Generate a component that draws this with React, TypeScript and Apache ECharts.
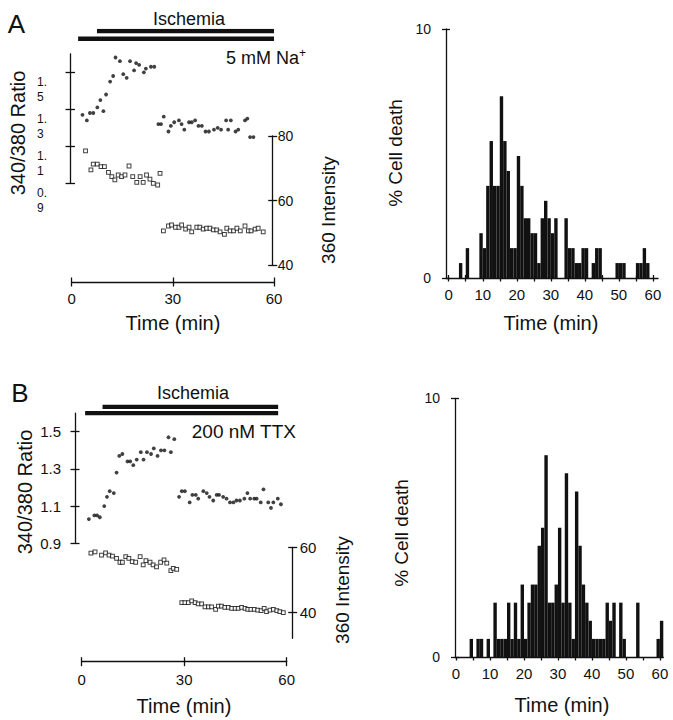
import React, { useEffect, useRef } from 'react';
import * as echarts from 'echarts';

const FONT = '"Liberation Sans", Arial, Helvetica, sans-serif';
const INK = '#111';

// ---- tick values ----
const ratioTicks = [0.9, 1.1, 1.3, 1.5];
const intensityTicksA = [40, 60, 80];
const intensityTicksB = [40, 60];
const timeTicks = [0, 30, 60];
const histLabelTicks = [0, 10, 20, 30, 40, 50, 60];
const histMinorTicks = [0, 5, 10, 15, 20, 25, 30, 35, 40, 45, 50, 55, 60];
const histYTicks = [0, 10];

// ---- treatment bars (min) ----
const ischemiaA = [7.5, 60];
const sodiumA = [1.9, 60];
const ischemiaB = [6.1, 57.5];
const ttxB = [1.0, 57.5];

// ---- panel A: 340/380 ratio (time min, ratio) ----
const ratioA: number[][] = [
  [3.2, 1.27], [4.5, 1.24], [5.4, 1.28], [6.4, 1.28], [7.6, 1.31], [8.5, 1.35], [9.4, 1.29],
  [10.2, 1.38], [11.4, 1.45], [12.3, 1.48], [13.0, 1.58], [14.3, 1.56], [15.3, 1.49], [16.3, 1.47],
  [17.3, 1.56], [18.5, 1.51], [19.1, 1.55], [20.0, 1.54], [21.4, 1.5], [22.0, 1.52], [23.5, 1.53],
  [24.5, 1.53],
  [25.7, 1.22], [26.5, 1.22], [27.3, 1.26], [28.7, 1.18], [29.4, 1.21], [30.4, 1.23], [31.8, 1.24],
  [32.6, 1.22], [33.4, 1.19], [34.8, 1.23], [35.6, 1.23], [36.6, 1.24], [37.6, 1.21], [38.6, 1.21],
  [39.7, 1.18], [40.7, 1.18], [42.2, 1.19], [43.3, 1.2], [44.3, 1.19], [45.8, 1.24], [46.4, 1.19],
  [47.2, 1.24], [48.6, 1.18], [49.4, 1.19], [51.4, 1.24], [52.1, 1.25], [52.9, 1.15], [53.9, 1.15],
];

// ---- panel A: 360 intensity ----
const intensityA: number[][] = [
  [4.1, 75.4], [5.7, 69.5], [6.4, 71.3], [7.6, 71.3], [8.7, 70.5], [9.7, 70.5], [10.9, 68.7],
  [11.9, 67.4], [12.8, 66.4], [13.8, 67.9], [14.8, 67.4], [15.8, 67.9], [17.0, 70.7], [18.1, 67.4],
  [19.3, 65.6], [20.3, 67.4], [21.2, 65.6], [22.2, 67.9], [23.2, 66.6], [24.2, 65.3], [25.5, 64.8],
  [26.2, 68.4],
  [27.2, 50.6], [28.7, 52.1], [29.6, 52.4], [30.8, 51.7], [31.8, 51.7], [32.6, 52.4], [33.8, 51.1],
  [34.8, 51.7], [35.6, 50.3], [37.1, 51.7], [38.0, 51.7], [39.0, 51.1], [40.0, 51.4], [41.0, 51.4],
  [42.0, 50.9], [43.0, 50.9], [44.0, 50.3], [45.3, 49.5], [46.0, 51.4], [47.0, 50.6], [48.0, 50.6],
  [49.0, 51.4], [50.0, 50.6], [51.4, 52.1], [52.4, 50.6], [53.2, 50.6], [54.4, 51.1], [55.3, 51.4],
  [56.8, 50.3],
];

// ---- panel B: 340/380 ratio ----
const ratioB: number[][] = [
  [2.1, 1.03], [3.7, 1.05], [4.5, 1.05], [5.3, 1.04], [6.6, 1.1], [7.4, 1.15], [8.2, 1.18],
  [9.4, 1.17], [10.2, 1.28], [11.0, 1.37], [11.9, 1.38], [13.4, 1.34], [14.2, 1.34], [15.1, 1.32],
  [16.1, 1.35], [17.3, 1.39], [18.1, 1.35], [19.1, 1.39], [20.3, 1.38], [21.1, 1.41], [22.2, 1.37],
  [23.2, 1.4], [24.2, 1.4], [25.4, 1.47], [26.1, 1.39], [27.1, 1.46],
  [28.5, 1.15], [29.3, 1.18], [30.2, 1.18], [31.6, 1.12], [32.4, 1.16], [33.4, 1.16], [34.1, 1.14],
  [35.6, 1.18], [36.6, 1.17], [37.4, 1.15], [38.5, 1.13], [39.5, 1.16], [40.2, 1.16], [41.4, 1.15],
  [42.4, 1.14], [43.4, 1.12], [44.4, 1.12], [45.3, 1.13], [46.3, 1.13], [47.6, 1.14], [48.5, 1.17],
  [49.3, 1.14], [50.5, 1.14], [51.2, 1.14], [52.4, 1.12], [53.2, 1.19], [54.6, 1.12], [55.4, 1.09],
  [56.1, 1.12], [57.4, 1.14], [58.3, 1.11],
];

// ---- panel B: 360 intensity ----
const intensityB: number[][] = [
  [2.7, 58.2], [3.9, 58.6], [4.9, 61.0], [5.8, 57.6], [7.0, 58.3], [8.0, 57.6], [9.0, 57.3],
  [10.2, 56.6], [11.2, 55.4], [11.9, 55.4], [12.9, 57.1], [13.8, 56.6], [14.8, 55.6], [15.8, 55.4],
  [17.1, 57.1], [18.0, 54.6], [18.8, 55.9], [20.0, 55.4], [20.9, 54.6], [21.9, 54.0], [23.1, 55.4],
  [24.1, 56.1], [24.9, 55.1], [26.1, 52.8], [26.8, 53.5], [27.8, 53.2],
  [29.3, 43.0], [30.2, 43.0], [31.2, 43.0], [32.2, 43.5], [33.2, 43.0], [34.1, 42.6], [35.1, 42.6],
  [36.1, 41.7], [37.1, 41.7], [38.0, 41.7], [39.2, 40.9], [40.0, 41.9], [40.9, 41.9], [41.9, 41.5],
  [42.9, 41.5], [43.9, 41.2], [44.9, 41.2], [45.8, 41.2], [46.8, 41.5], [47.8, 41.2], [48.6, 40.9],
  [49.5, 40.9], [50.5, 40.9], [51.5, 40.7], [52.5, 40.5], [53.4, 41.2], [54.1, 40.2], [55.1, 40.7],
  [56.1, 40.9], [57.1, 40.5], [58.0, 40.2], [59.0, 39.9],
];

// ---- histograms: % cell death per 1-min bin, index = minute ----
const histA = [
  0, 0, 0, 0.6, 0, 1.2, 0, 0, 0, 1.8,
  1.2, 3.7, 5.5, 3.7, 3.7, 7.3, 5.5, 4.3, 1.2, 1.2,
  4.9, 3.7, 2.4, 2.4, 1.8, 1.8, 0.6, 2.4, 3.1, 2.4,
  1.8, 2.4, 0, 0, 2.4, 1.2, 1.2, 0.6, 0.6, 1.2,
  1.2, 0, 0.6, 1.2, 1.2, 0, 0, 0, 0, 0.6,
  0.6, 0.6, 0, 0, 0, 0.6, 0.6, 1.2, 0.6, 0,
  0,
];
const histB = [
  0, 0, 0, 0, 0.7, 0, 0.7, 0.7, 0, 0.7,
  0, 2.1, 0.7, 0.7, 0.7, 2.1, 0.7, 2.1, 0.7, 2.8,
  0.7, 2.1, 2.8, 2.8, 4.3, 5.0, 7.8, 2.1, 2.1, 2.8,
  5.0, 2.1, 7.1, 2.1, 0.7, 6.4, 4.3, 2.8, 2.1, 1.4,
  0.7, 0.7, 0.7, 0.7, 2.1, 1.4, 2.1, 0, 2.1, 0.7,
  0, 0, 0, 2.1, 0, 0, 0, 0, 0, 0.7,
  1.4,
];

const LINE = { color: INK, width: 1.3 };

function visAxis(o: any) {
  return {
    type: 'value',
    splitLine: { show: false },
    axisLine: { show: true, onZero: false, lineStyle: LINE },
    ...o,
    axisTick: { show: true, lineStyle: LINE, ...(o.axisTick || {}) },
    axisLabel: { color: INK, fontFamily: FONT, ...(o.axisLabel || {}) },
  };
}
function dupAxis(o: any) {
  return {
    type: 'value',
    splitLine: { show: false },
    axisLine: { show: false, onZero: false },
    axisLabel: { show: false },
    ...o,
    axisTick: { show: true, inside: true, lineStyle: LINE, ...(o.axisTick || {}) },
  };
}
function hidAxis(o: any) {
  return { type: 'value', show: false, splitLine: { show: false }, ...o };
}

const histRender = (params: any, api: any) => {
  const x0 = api.value(0);
  const v = api.value(1);
  if (!v) return null;
  const p0 = api.coord([x0, v]);
  const p1 = api.coord([x0 + 1, 0]);
  return {
    type: 'rect',
    shape: { x: p0[0], y: p0[1], width: p1[0] - p0[0], height: p1[1] - p0[1] },
    style: { fill: INK },
  };
};

const ratioFmtA = (v: number) => {
  const s = v.toFixed(1);
  return s.slice(0, 2) + '\n' + s.slice(2);
};

function txt(text: string, x: number, y: number, size: number, extra: any = {}) {
  return {
    type: 'text',
    x,
    y,
    rotation: extra.rot || 0,
    silent: true,
    style: {
      text,
      fontSize: size,
      fontFamily: FONT,
      fill: INK,
      align: extra.align || 'center',
      verticalAlign: 'middle',
      rich: extra.rich,
    },
  };
}

const supRich = { s: { fontSize: 12, fontFamily: FONT, fill: INK, padding: [0, 0, 10, 0] } };

export default function App() {
  const ref = useRef<HTMLDivElement>(null);
  useEffect(() => {
    if (!ref.current) return;
    const chart = echarts.init(ref.current, undefined, { renderer: 'svg' });
    const scatterDot = { type: 'scatter', symbol: 'circle', symbolSize: 3.8, itemStyle: { color: INK }, silent: true };
    const scatterSq = {
      type: 'scatter', symbol: 'rect', symbolSize: 3.8,
      itemStyle: { color: '#fff', borderColor: INK, borderWidth: 1 }, silent: true,
    };
    const barLine = { type: 'line', symbol: 'none', silent: true, lineStyle: { width: 4.6, color: INK, cap: 'butt' } };

    const option: any = {
      animation: false,
      backgroundColor: '#fff',
      grid: [
        { left: 71.7, top: 53.8, width: 202.3, height: 129.5 }, // 0 A ratio
        { left: 71.7, top: 136, width: 202.3, height: 129 }, // 1 A intensity
        { left: 81.7, top: 413.1, width: 205, height: 130.2 }, // 2 B ratio
        { left: 81.7, top: 547.3, width: 205, height: 91 }, // 3 B intensity
        { left: 446, top: 29, width: 212, height: 249 }, // 4 hist A
        { left: 455, top: 398.3, width: 208.3, height: 258.7 }, // 5 hist B
        { left: 71.7, top: 31, width: 202.3, height: 7.7 }, // 6 A bars
        { left: 81.7, top: 406.7, width: 205, height: 6.6 }, // 7 B bars
      ],
      xAxis: [
        hidAxis({ gridIndex: 0, min: 0, max: 60 }), // 0
        visAxis({
          gridIndex: 1, min: 0, max: 60, position: 'bottom', offset: 17,
          axisTick: { customValues: timeTicks, length: 4.5 },
          axisLabel: { customValues: timeTicks, fontSize: 15, margin: 9 },
        }), // 1
        dupAxis({ gridIndex: 1, min: 0, max: 60, position: 'bottom', offset: 17, axisTick: { customValues: timeTicks, length: 4.5 } }), // 2
        hidAxis({ gridIndex: 2, min: 0, max: 60 }), // 3
        visAxis({
          gridIndex: 3, min: 0, max: 60, position: 'bottom', offset: 23.4,
          axisTick: { customValues: timeTicks, length: 4.5 },
          axisLabel: { customValues: timeTicks, fontSize: 15, margin: 10 },
        }), // 4
        dupAxis({ gridIndex: 3, min: 0, max: 60, position: 'bottom', offset: 23.4, axisTick: { customValues: timeTicks, length: 4.5 } }), // 5
        visAxis({
          gridIndex: 4, min: -0.8, max: 61.5, position: 'bottom',
          axisTick: { customValues: histMinorTicks, length: 3.5 },
          axisLabel: { customValues: histLabelTicks, fontSize: 15, margin: 9 },
        }), // 6
        dupAxis({ gridIndex: 4, min: -0.8, max: 61.5, position: 'bottom', axisTick: { customValues: histMinorTicks, length: 3 } }), // 7
        visAxis({
          gridIndex: 5, min: -0.3, max: 61, position: 'bottom',
          axisTick: { customValues: histMinorTicks, length: 3.5 },
          axisLabel: { customValues: histLabelTicks, fontSize: 15, margin: 9 },
        }), // 8
        hidAxis({ gridIndex: 6, min: 0, max: 60 }), // 9
        hidAxis({ gridIndex: 7, min: 0, max: 60 }), // 10
      ],
      yAxis: [
        visAxis({
          gridIndex: 0, min: 0.9, max: 1.6, position: 'left', offset: 1.7,
          axisTick: { customValues: ratioTicks, length: 4.5 },
          axisLabel: {
            customValues: ratioTicks, formatter: ratioFmtA, fontSize: 12, align: 'left', margin: 33,
            verticalAlign: 'top', lineHeight: 15, padding: [2, 0, 0, 0],
          },
        }), // 0
        dupAxis({ gridIndex: 0, min: 0.9, max: 1.6, position: 'left', offset: 1.7, axisTick: { customValues: ratioTicks, length: 5 } }), // 1
        visAxis({
          gridIndex: 1, min: 40, max: 80, position: 'right', offset: -1.3,
          axisTick: { customValues: intensityTicksA, length: 4.5 },
          axisLabel: { customValues: intensityTicksA, fontSize: 14, margin: 5 },
        }), // 2
        dupAxis({ gridIndex: 1, min: 40, max: 80, position: 'right', offset: -1.3, axisTick: { customValues: intensityTicksA, length: 4.5 } }), // 3
        visAxis({
          gridIndex: 2, min: 0.9, max: 1.6, position: 'left', offset: 6.7,
          axisTick: { customValues: ratioTicks, length: 4.5 },
          axisLabel: { customValues: ratioTicks, formatter: (v: number) => v.toFixed(1), fontSize: 15, margin: 14 },
        }), // 4
        dupAxis({ gridIndex: 2, min: 0.9, max: 1.6, position: 'left', offset: 6.7, axisTick: { customValues: ratioTicks, length: 4.5 } }), // 5
        visAxis({
          gridIndex: 3, min: 32, max: 60, position: 'right', offset: 6,
          axisTick: { customValues: intensityTicksB, length: 4.5 },
          axisLabel: { customValues: intensityTicksB, fontSize: 15, margin: 7 },
        }), // 6
        dupAxis({ gridIndex: 3, min: 32, max: 60, position: 'right', offset: 6, axisTick: { customValues: intensityTicksB, length: 4.5 } }), // 7
        visAxis({
          gridIndex: 4, min: 0, max: 10, position: 'left',
          axisTick: { customValues: histYTicks, length: 4 },
          axisLabel: { customValues: histYTicks, fontSize: 14, margin: 15 },
        }), // 8
        visAxis({
          gridIndex: 5, min: 0, max: 10, position: 'left',
          axisTick: { customValues: histYTicks, length: 4 },
          axisLabel: { customValues: histYTicks, fontSize: 14, margin: 15 },
        }), // 9
        hidAxis({ gridIndex: 6, min: 0, max: 1 }), // 10
        hidAxis({ gridIndex: 7, min: 0, max: 1 }), // 11
        dupAxis({ gridIndex: 4, min: 0, max: 10, position: 'left', axisTick: { customValues: histYTicks, length: 4 } }), // 12
        dupAxis({ gridIndex: 5, min: 0, max: 10, position: 'left', axisTick: { customValues: histYTicks, length: 4 } }), // 13
      ],
      series: [
        { ...scatterDot, xAxisIndex: 0, yAxisIndex: 0, data: ratioA },
        { ...scatterSq, xAxisIndex: 1, yAxisIndex: 2, data: intensityA },
        { ...scatterDot, xAxisIndex: 3, yAxisIndex: 4, data: ratioB },
        { ...scatterSq, xAxisIndex: 4, yAxisIndex: 6, data: intensityB },
        { type: 'custom', xAxisIndex: 6, yAxisIndex: 8, data: histA.map((v, i) => [i, v]), renderItem: histRender, silent: true },
        { type: 'custom', xAxisIndex: 8, yAxisIndex: 9, data: histB.map((v, i) => [i, v]), renderItem: histRender, silent: true },
        { ...barLine, xAxisIndex: 9, yAxisIndex: 10, data: [[ischemiaA[0], 1], [ischemiaA[1], 1]] },
        { ...barLine, xAxisIndex: 9, yAxisIndex: 10, data: [[sodiumA[0], 0], [sodiumA[1], 0]] },
        { ...barLine, xAxisIndex: 10, yAxisIndex: 11, data: [[ischemiaB[0], 1], [ischemiaB[1], 1]] },
        { ...barLine, xAxisIndex: 10, yAxisIndex: 11, data: [[ttxB[0], 0], [ttxB[1], 0]] },
      ],
      graphic: [
        txt('A', 16.5, 24, 26),
        txt('Ischemia', 189, 19, 18),
        txt('5 mM Na{s|+}', 306, 58, 18, { align: 'right', rich: supRich }),
        txt('340/380 Ratio', 18, 133, 20, { rot: Math.PI / 2 }),
        txt('360 Intensity', 328, 210, 19, { rot: Math.PI / 2 }),
        txt('Time (min)', 173, 323, 20),
        txt('B', 20, 393, 26),
        txt('Ischemia', 193, 393, 18),
        txt('200 nM TTX', 296, 431, 19, { align: 'right' }),
        txt('340/380 Ratio', 25, 492, 20, { rot: Math.PI / 2 }),
        txt('360 Intensity', 342, 590, 19, { rot: Math.PI / 2 }),
        txt('Time (min)', 184, 706, 20),
        txt('% Cell death', 395, 153, 19, { rot: Math.PI / 2 }),
        txt('Time (min)', 551, 323, 20),
        txt('% Cell death', 401, 533, 19, { rot: Math.PI / 2 }),
        txt('Time (min)', 562, 705, 20),
      ],
    };
    chart.setOption(option);
    return () => chart.dispose();
  }, []);
  return (
    <div
      ref={ref}
      style={{ position: 'absolute', left: 0, top: 0, width: 673, height: 720, background: '#fff' }}
    />
  );
}
